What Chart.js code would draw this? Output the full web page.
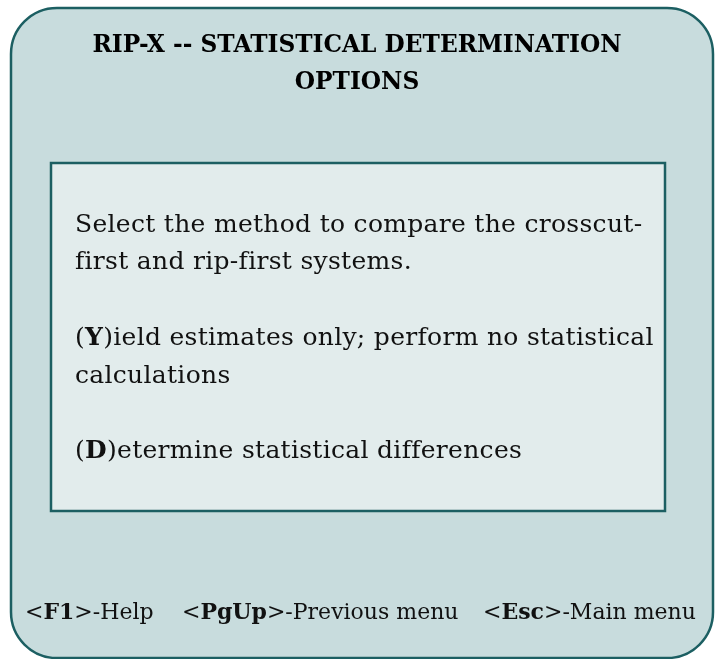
<!DOCTYPE html>
<html>
<head>
<meta charset="utf-8">
<script src="https://cdn.jsdelivr.net/npm/chart.js@4"></script>
<style>
  html, body { margin: 0; padding: 0; background: #ffffff; }
  #wrap { width: 719px; height: 659px; }
</style>
</head>
<body>
<div id="wrap"><canvas id="menu" width="719" height="659"></canvas></div>
<script>
const titleLines = ['RIP-X -- STATISTICAL DETERMINATION', 'OPTIONS']
// each body line is a list of [text, bold] segments
const bodyLines = [
  [['Select the method to compare the crosscut-', false]],
  [['first and rip-first systems.', false]],
  [],
  [['(', false], ['Y', true], [')ield estimates only; perform no statistical', false]],
  [['calculations', false]],
  [],
  [['(', false], ['D', true], [')etermine statistical differences', false]]
]
const footerItems = [
  [['<', false], ['F1', true], ['>-Help', false]],
  [['<', false], ['PgUp', true], ['>-Previous menu', false]],
  [['<', false], ['Esc', true], ['>-Main menu', false]]
]
const footerStarts = [25, 182, 483]

const FONT = '"DejaVu Serif", serif'

const drawSegments = (ctx, segs, x, y, size, spacing) => {
  let cx = x
  ctx.letterSpacing = spacing + 'px'
  segs.forEach(([text, bold]) => {
    ctx.font = (bold ? 'bold ' : '') + size + 'px ' + FONT
    ctx.fillText(text, cx, y)
    cx += ctx.measureText(text).width
  })
  ctx.letterSpacing = '0px'
}

const roundRect = (ctx, x, y, w, h, r) => {
  ctx.beginPath()
  ctx.moveTo(x + r, y)
  ctx.lineTo(x + w - r, y)
  ctx.arcTo(x + w, y, x + w, y + r, r)
  ctx.lineTo(x + w, y + h - r)
  ctx.arcTo(x + w, y + h, x + w - r, y + h, r)
  ctx.lineTo(x + r, y + h)
  ctx.arcTo(x, y + h, x, y + h - r, r)
  ctx.lineTo(x, y + r)
  ctx.arcTo(x, y, x + r, y, r)
  ctx.closePath()
}

const menuPanel = {
  id: 'menuPanel',
  beforeDraw (chart) {
    const ctx = chart.ctx
    ctx.save()
    // outer panel
    roundRect(ctx, 11, 8, 702, 650, 46)
    ctx.fillStyle = '#c8dcdd'
    ctx.fill()
    ctx.lineWidth = 2.5
    ctx.strokeStyle = '#1c5f62'
    ctx.stroke()

    // title
    ctx.fillStyle = '#000000'
    ctx.textBaseline = 'middle'
    ctx.textAlign = 'center'
    ctx.font = 'bold 23.3px ' + FONT
    titleLines.forEach((line, i) => {
      ctx.fillText(line, 357, 46 + i * 37)
    })

    // inner box
    ctx.fillStyle = '#e2ecec'
    ctx.fillRect(51, 163, 614, 348)
    ctx.lineWidth = 2.5
    ctx.strokeStyle = '#1c5f62'
    ctx.strokeRect(51, 163, 614, 348)

    ctx.fillStyle = '#111111'
    ctx.textAlign = 'left'
    bodyLines.forEach((segs, i) => {
      drawSegments(ctx, segs, 75, 225 + i * 37.8, 25, 0.3)
    })

    // footer keys
    footerItems.forEach((segs, i) => {
      drawSegments(ctx, segs, footerStarts[i], 613, 22, 0)
    })
    ctx.restore()
  }
}

new Chart(document.getElementById('menu'), {
  type: 'scatter',
  data: { datasets: [] },
  options: {
    responsive: false,
    animation: false,
    events: [],
    layout: { padding: 0 },
    plugins: { legend: { display: false }, tooltip: { enabled: false } },
    scales: { x: { display: false }, y: { display: false } }
  },
  plugins: [menuPanel]
})
</script>
</body>
</html>
